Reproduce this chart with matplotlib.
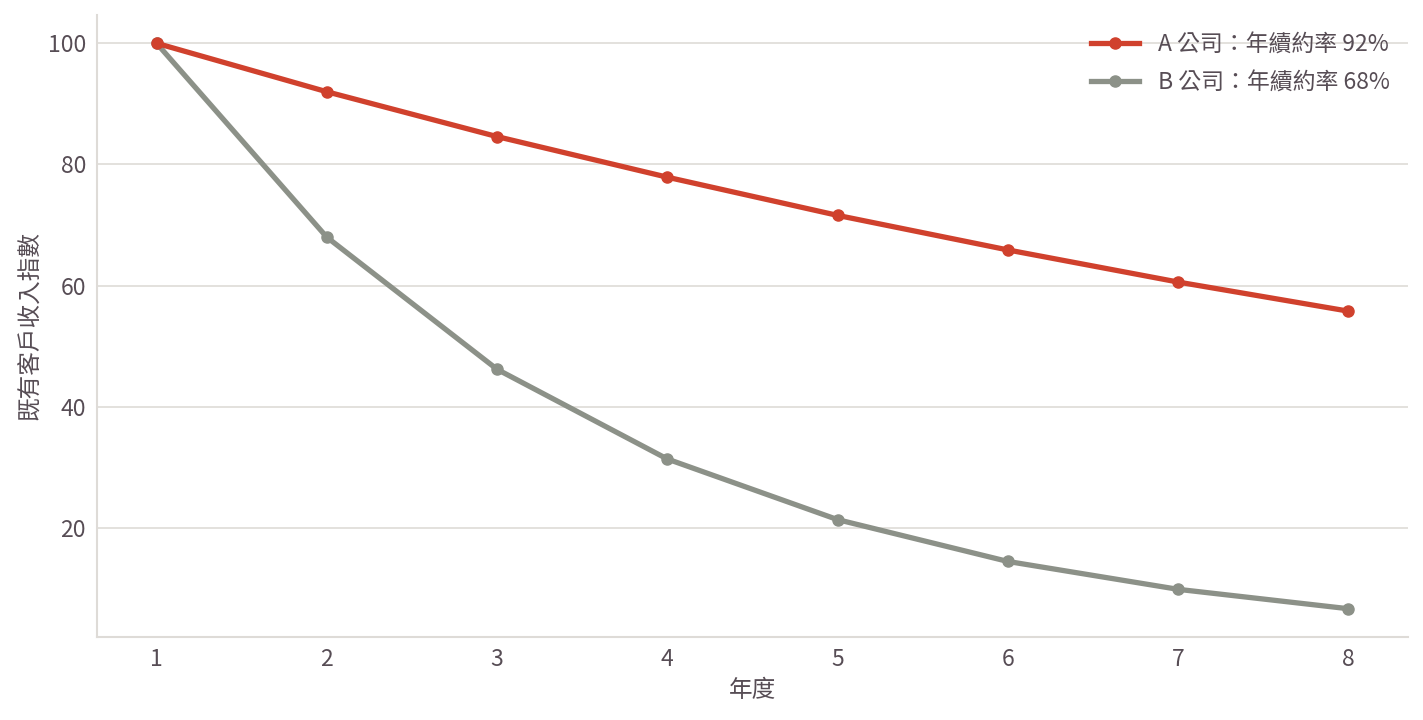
import matplotlib
matplotlib.use('Agg')
import matplotlib.pyplot as plt

plt.rcParams['font.family'] = ['Noto Sans CJK TC', 'DejaVu Sans']

TEXT = '#574d55'
GRID = '#dedbd7'

years = [1, 2, 3, 4, 5, 6, 7, 8]
company_a = [100, 92.0, 84.6, 77.9, 71.6, 65.9, 60.6, 55.8]
company_b = [100, 68.0, 46.2, 31.4, 21.4, 14.5, 9.9, 6.7]
label_a = 'A 公司：年續約率 92%'
label_b = 'B 公司：年續約率 68%'

fig = plt.figure(figsize=(14.23, 7.2), dpi=100)
ax = fig.add_axes([97 / 1423, 1 - 637 / 720, (1408 - 97) / 1423, (637 - 15) / 720])

ax.plot(years, company_a, color='#d0412d', lw=3.8, marker='o', ms=8, label=label_a, zorder=3)
ax.plot(years, company_b, color='#8c9188', lw=3.8, marker='o', ms=8, label=label_b, zorder=2)

ax.set_yticks([20, 40, 60, 80, 100])
ax.set_xticks(years)
ax.yaxis.grid(True, color=GRID, lw=1.2)
ax.set_axisbelow(True)
for s in ['top', 'right']:
  ax.spines[s].set_visible(False)
for s in ['left', 'bottom']:
  ax.spines[s].set_color(GRID)
  ax.spines[s].set_linewidth(1.5)
ax.tick_params(length=0, pad=8, labelsize=16.5, labelcolor=TEXT)

ax.set_xlabel('年度', fontsize=17, color=TEXT, labelpad=6)
ax.set_ylabel('既有客戶收入指數', fontsize=17, color=TEXT, labelpad=4)

# legend without frame, upper right
leg = ax.legend(loc='upper right', frameon=False, fontsize=16.5, handlelength=2.1,
                handletextpad=0.8, labelspacing=0.65, labelcolor=TEXT, borderaxespad=0.4)

fig.savefig('out.png', dpi=100)
